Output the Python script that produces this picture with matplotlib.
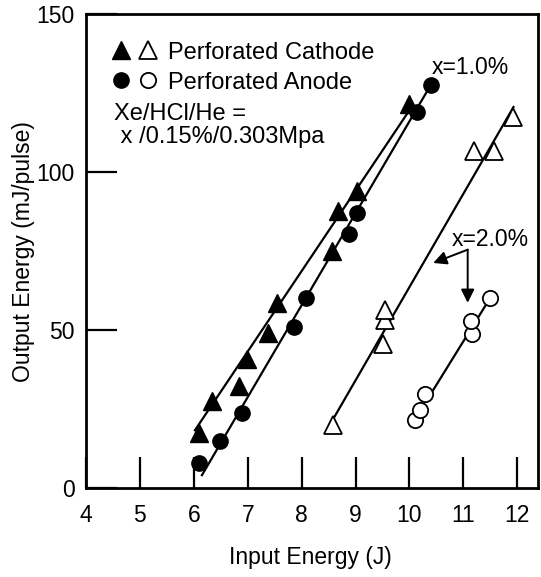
import matplotlib.pyplot as plt
from matplotlib.legend_handler import HandlerTuple

plt.rcParams['font.family'] = ['Liberation Sans', 'DejaVu Sans']

# x = 1.0 %
cath1_x = [6.10, 6.33, 6.84, 6.99, 7.38, 7.54, 8.56, 8.68, 9.02, 10.00]
cath1_y = [17.4, 27.8, 32.5, 40.9, 49.3, 58.7, 75.0, 87.6, 93.9, 121.6]
anode1_x = [6.10, 6.49, 6.89, 7.85, 8.09, 8.87, 9.02, 10.14, 10.40]
anode1_y = [8.1, 14.9, 24.0, 50.9, 60.3, 80.3, 87.0, 119.0, 127.7]

# x = 2.0 %
cath2_x = [8.58, 9.50, 9.55, 9.55, 11.19, 11.56, 11.92]
cath2_y = [20.0, 45.7, 53.2, 56.4, 106.7, 106.7, 117.4]
anode2_x = [10.10, 10.20, 10.29, 11.16, 11.14, 11.50]
anode2_y = [21.5, 24.7, 29.9, 48.8, 53.0, 60.3]

# fitted lines (end points)
fit_cath1_x = [6.02, 10.04]
fit_cath1_y = [18.4, 120.6]
fit_anode1_x = [6.15, 10.40]
fit_anode1_y = [4.2, 127.7]
fit_cath2_x = [8.59, 11.93]
fit_cath2_y = [22.1, 120.6]
fit_anode2_x = [10.32, 11.50]
fit_anode2_y = [27.8, 60.3]

fig = plt.figure(figsize=(5.41, 5.77), dpi=100)
ax = fig.add_axes([0.159, 0.1534, 0.836, 0.8223])

for fx, fy in [(fit_cath1_x, fit_cath1_y), (fit_anode1_x, fit_anode1_y),
               (fit_cath2_x, fit_cath2_y), (fit_anode2_x, fit_anode2_y)]:
    ax.plot(fx, fy, color='k', lw=1.6, zorder=2)

ms_tri = 12.5
ms_cir = 11
h1, = ax.plot(cath1_x, cath1_y, '^', ms=ms_tri, color='k', ls='none', zorder=3)
h2, = ax.plot(cath2_x, cath2_y, '^', ms=ms_tri, mfc='white', mec='k', mew=1.3,
              ls='none', zorder=3)
h3, = ax.plot(anode1_x, anode1_y, 'o', ms=ms_cir, color='k', ls='none', zorder=3)
h4, = ax.plot(anode2_x, anode2_y, 'o', ms=ms_cir, mfc='white', mec='k', mew=1.3,
              ls='none', zorder=3)

ax.legend([(h1, h2), (h3, h4)], ['Perforated Cathode', 'Perforated Anode'],
          handler_map={tuple: HandlerTuple(ndivide=None, pad=0)},
          loc='upper left', bbox_to_anchor=(0.046, 0.942), frameon=False,
          borderpad=0, borderaxespad=0, handlelength=2.34,
          handletextpad=0.24, labelspacing=0.34, fontsize=17)

ax.text(4.51, 114.8, 'Xe/HCl/He =\n x /0.15%/0.303Mpa', fontsize=17,
        ha='left', va='center', linespacing=1.1)
ax.text(10.41, 133.2, 'x=1.0%', fontsize=16.5, ha='left', va='center')
ax.text(10.78, 78.7, 'x=2.0%', fontsize=16.5, ha='left', va='center')

arrow = dict(arrowstyle='-|>', lw=1.4, color='k', mutation_scale=20,
             shrinkA=0, shrinkB=0)
ax.annotate('', xy=(10.44, 71.3), xytext=(11.08, 75.5), arrowprops=arrow)
ax.annotate('', xy=(11.08, 58.7), xytext=(11.08, 75.5), arrowprops=arrow)

ax.set_xlim(4, 12.39)
ax.set_ylim(0, 150)
ax.set_xticks(range(4, 13))
ax.set_yticks([0, 50, 100, 150])
ax.tick_params(direction='in', length=22, width=1.6, labelsize=16.5)
ax.tick_params(axis='x', pad=11)
ax.tick_params(axis='y', pad=8)
for s in ax.spines.values():
    s.set_linewidth(2)

ax.set_xlabel('Input Energy (J)', fontsize=16.5)
ax.xaxis.set_label_coords(0.497, -0.146)
ax.xaxis.label.set_va('center')
ax.set_ylabel('Output Energy (mJ/pulse)', fontsize=16.5)
ax.yaxis.set_label_coords(-0.138, 0.5)
ax.yaxis.label.set_va('center')

fig.savefig('out.png', dpi=100)
